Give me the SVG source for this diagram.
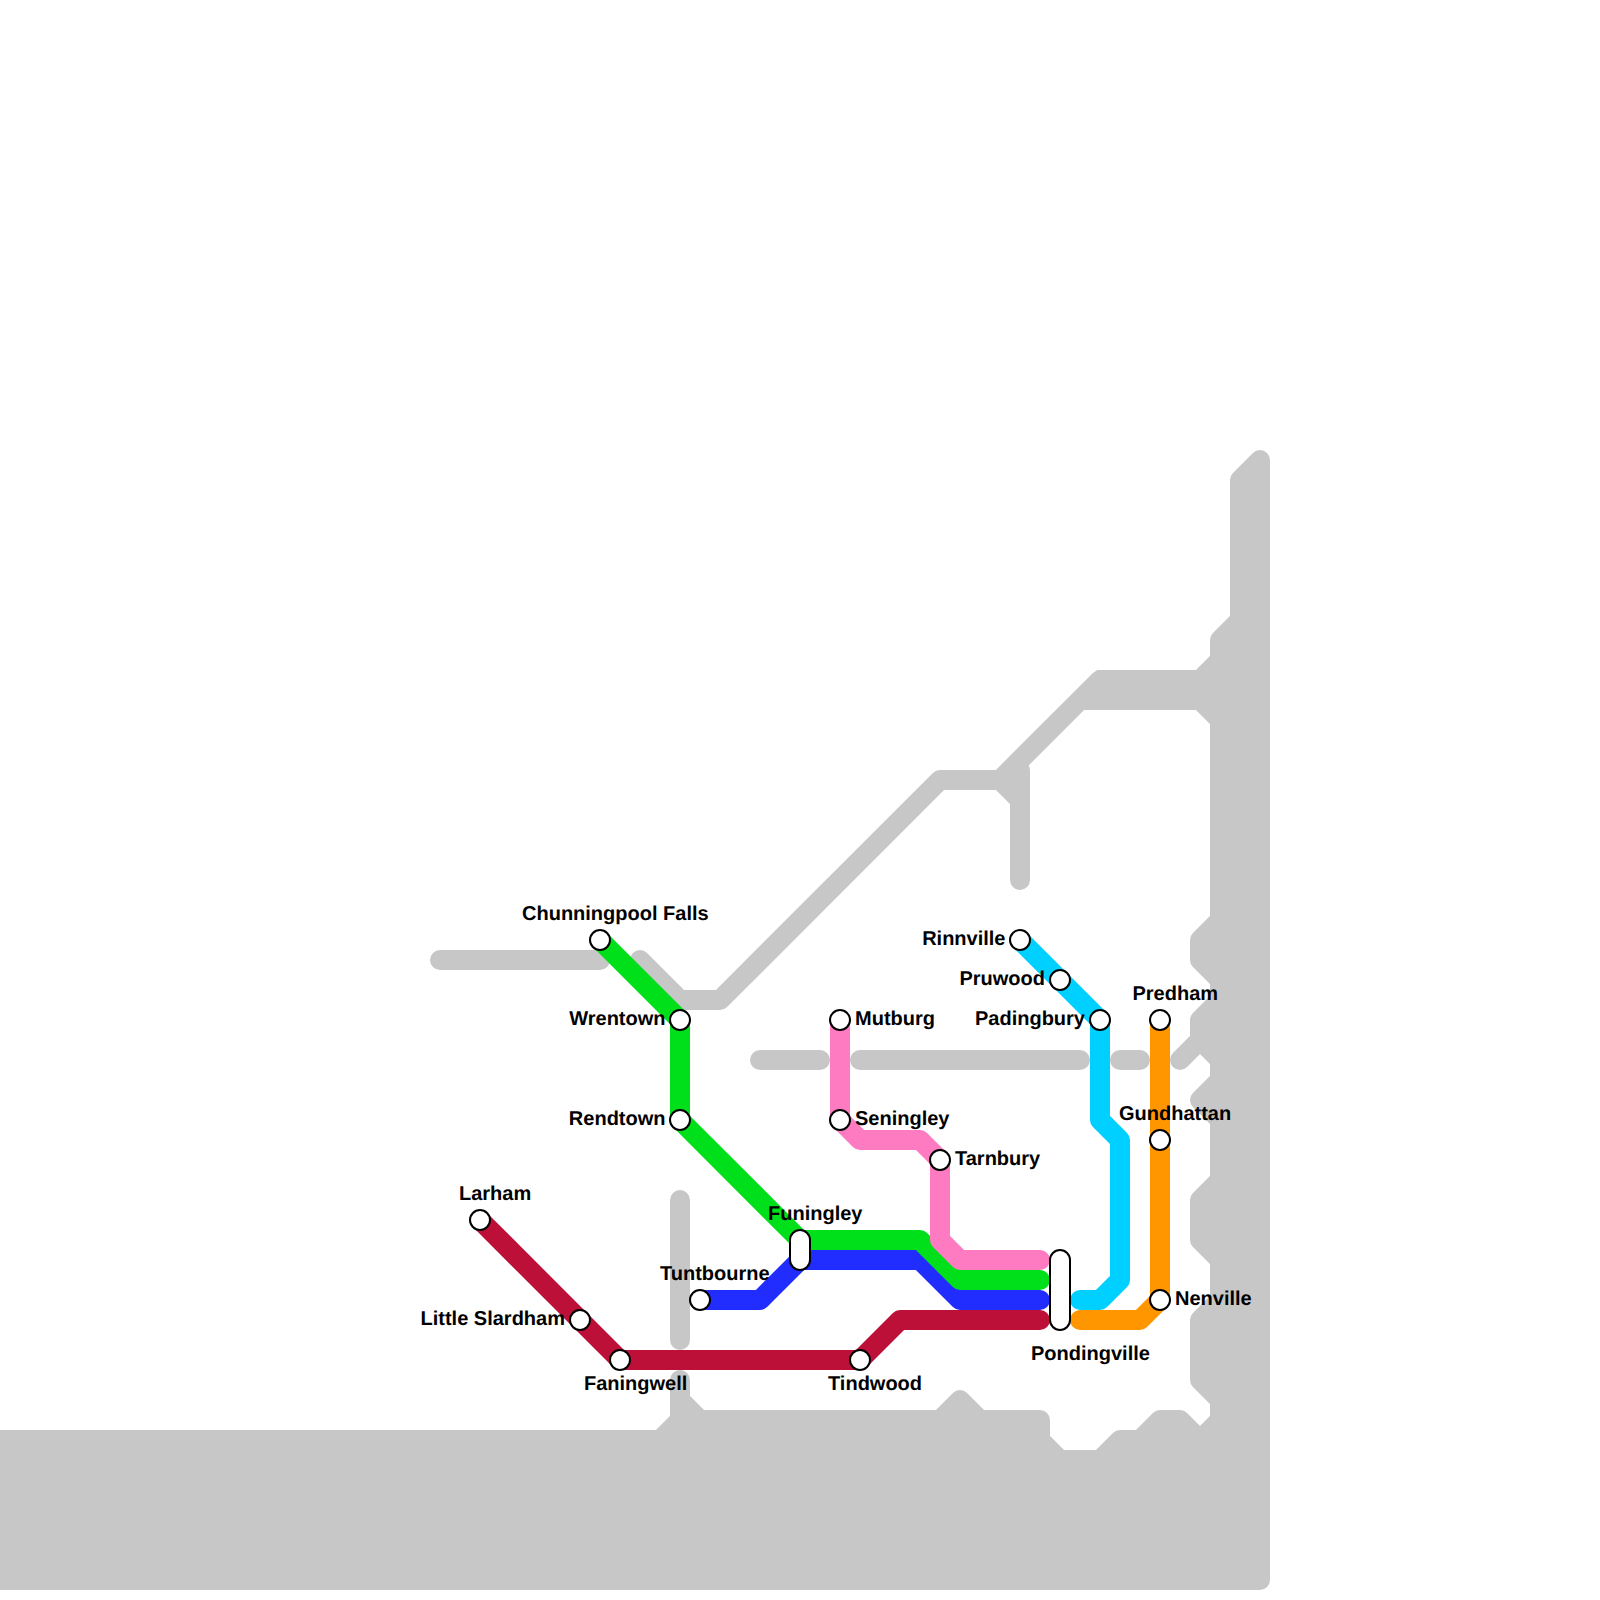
<svg xmlns="http://www.w3.org/2000/svg" width="1600" height="1600" viewBox="0 0 1600 1600">
<style>
.g{fill:none;stroke:#c7c7c7;stroke-width:20;stroke-linecap:round;stroke-linejoin:round}
.mass{fill:#c7c7c7;stroke:#c7c7c7;stroke-width:20;stroke-linejoin:round}
.l{fill:none;stroke-width:20;stroke-linecap:round;stroke-linejoin:round}
.st{fill:#fff;stroke:#000;stroke-width:2}
text{font-family:"Liberation Sans",Arial,sans-serif;font-weight:700;font-size:20px;fill:#000;text-rendering:geometricPrecision}
.e{text-anchor:end}
</style>
<rect width="1600" height="1600" fill="#fff"/>
<g id="background">
<path class="mass" d="M1260 460L1240 480V620L1220 640V660L1200 680V700L1220 720V920L1200 940V960L1220 980V1000L1200 1020V1040L1180 1060L1200 1040L1220 1060V1080L1200 1100L1220 1120V1180L1200 1200V1240L1220 1260V1300L1200 1320V1380L1220 1400V1420L1200 1440L1180 1420H1160L1140 1440H1120L1100 1460H1060L1040 1440V1420H980L960 1400L940 1420H700L680 1400V1380V1420L660 1440H-20V1580H1260Z"/>
<polygon fill="#c7c7c7" points="1084,710 1205,710 1205,670 1097,670"/>
<path class="g" d="M440 960H600"/>
<path class="g" d="M640 960L680 1000H720L940 780H1000L1100 680H1200"/>
<path class="g" d="M1000 780L1020 800"/>
<path class="g" d="M1020 770V880"/>
<path class="g" d="M760 1060H820"/>
<path class="g" d="M860 1060H1080"/>
<path class="g" d="M1120 1060H1140"/>
<path class="g" d="M680 1200V1340"/>
</g>
<g id="connectors">
<path id="line-crimson" class="l" stroke="#bc1039" d="M480 1220L620 1360H860L900 1320H1040"/>
<path id="line-blue" class="l" stroke="#212dff" d="M700 1300H760L800 1260H920L960 1300H1040"/>
<path id="line-green" class="l" stroke="#00e01a" d="M600 940L680 1020V1120L800 1240H920L960 1280H1040"/>
<path id="line-pink" class="l" stroke="#ff7bc1" d="M840 1020V1120L860 1140H920L940 1160V1240L960 1260H1040"/>
<path id="line-cyan" class="l" stroke="#00d0ff" d="M1020 940L1100 1020V1120L1120 1140V1280L1100 1300H1080"/>
<path id="line-orange" class="l" stroke="#ff9600" d="M1160 1020V1300L1140 1320H1080"/>
</g>
<g id="chunningpool-falls"><circle class="st" cx="600" cy="940" r="10"/><text x="522" y="920">Chunningpool Falls</text></g>
<g id="wrentown"><circle class="st" cx="680" cy="1020" r="10"/><text class="e" x="665.5" y="1025">Wrentown</text></g>
<g id="rendtown"><circle class="st" cx="680" cy="1120" r="10"/><text class="e" x="665.5" y="1125">Rendtown</text></g>
<g id="funingley"><rect class="st" x="790" y="1230" width="20" height="40" rx="10"/><text x="768" y="1219.5">Funingley</text></g>
<g id="tuntbourne"><circle class="st" cx="700" cy="1300" r="10"/><text x="660" y="1279.5">Tuntbourne</text></g>
<g id="larham"><circle class="st" cx="480" cy="1220" r="10"/><text x="459" y="1200">Larham</text></g>
<g id="little-slardham"><circle class="st" cx="580" cy="1320" r="10"/><text class="e" x="565" y="1325">Little Slardham</text></g>
<g id="faningwell"><circle class="st" cx="620" cy="1360" r="10"/><text x="584" y="1390">Faningwell</text></g>
<g id="tindwood"><circle class="st" cx="860" cy="1360" r="10"/><text x="828" y="1390">Tindwood</text></g>
<g id="mutburg"><circle class="st" cx="840" cy="1020" r="10"/><text x="855" y="1025">Mutburg</text></g>
<g id="seningley"><circle class="st" cx="840" cy="1120" r="10"/><text x="855" y="1125">Seningley</text></g>
<g id="tarnbury"><circle class="st" cx="940" cy="1160" r="10"/><text x="955" y="1165">Tarnbury</text></g>
<g id="rinnville"><circle class="st" cx="1020" cy="940" r="10"/><text class="e" x="1005.5" y="945">Rinnville</text></g>
<g id="pruwood"><circle class="st" cx="1060" cy="980" r="10"/><text class="e" x="1045" y="984.5">Pruwood</text></g>
<g id="padingbury"><circle class="st" cx="1100" cy="1020" r="10"/><text class="e" x="1085" y="1025">Padingbury</text></g>
<g id="predham"><circle class="st" cx="1160" cy="1020" r="10"/><text x="1132.5" y="1000">Predham</text></g>
<g id="gundhattan"><circle class="st" cx="1160" cy="1140" r="10"/><text x="1119" y="1119.5">Gundhattan</text></g>
<g id="nenville"><circle class="st" cx="1160" cy="1300" r="10"/><text x="1175" y="1305">Nenville</text></g>
<g id="pondingville"><rect class="st" x="1050" y="1250" width="20" height="80" rx="10"/><text x="1031" y="1360">Pondingville</text></g>
</svg>
